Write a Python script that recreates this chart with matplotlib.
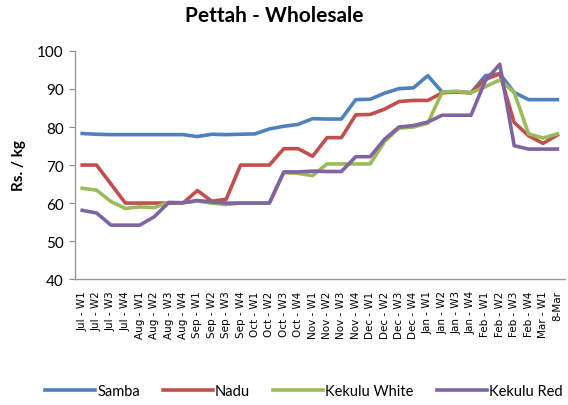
import matplotlib
matplotlib.use('Agg')
from matplotlib import pyplot as plt

weeks = ['Jul - W1', 'Jul - W2', 'Jul - W3', 'Jul - W4',
         'Aug - W1', 'Aug - W2', 'Aug - W3', 'Aug - W4',
         'Sep - W1', 'Sep - W2', 'Sep - W3', 'Sep - W4',
         'Oct - W1', 'Oct - W2', 'Oct - W3', 'Oct - W4',
         'Nov - W1', 'Nov - W2', 'Nov - W3', 'Nov - W4',
         'Dec - W1', 'Dec - W2', 'Dec - W3', 'Dec - W4',
         'Jan - W1', 'Jan - W2', 'Jan - W3', 'Jan - W4',
         'Feb - W1', 'Feb - W2', 'Feb - W3', 'Feb - W4',
         'Mar - W1', '8-Mar']

samba = [78.3, 78.1, 78, 78, 78, 78, 78, 78, 77.5, 78.1, 78, 78.1,
         78.2, 79.5, 80.2, 80.7, 82.2, 82.1, 82.1, 87.2, 87.3, 88.9, 90.1, 90.3,
         93.5, 89.2, 89.3, 89, 93.5, 94, 89.1, 87.2, 87.2, 87.2]
nadu = [70, 70, 65, 60, 60, 60, 60, 60, 63.3, 60.5, 61, 70,
        70, 70, 74.3, 74.3, 72.3, 77.2, 77.2, 83.2, 83.3, 84.7, 86.7, 87,
        87, 89, 89.2, 89, 92.5, 94, 81.2, 77.7, 75.7, 77.9]
kekulu_white = [63.9, 63.4, 60.4, 58.6, 59, 58.8, 60.2, 60.1, 60.5, 60, 59.6, 60,
                60, 60, 68, 67.8, 67.2, 70.3, 70.3, 70.3, 70.3, 76.2, 79.7, 80,
                81, 89.2, 89.4, 89, 90.6, 92.4, 89.1, 78.2, 77.1, 78.2]
kekulu_red = [58.1, 57.4, 54.2, 54.2, 54.2, 56.4, 60.1, 60.1, 60.7, 60.3, 60, 60,
              60, 60, 68.2, 68.2, 68.4, 68.3, 68.3, 72.2, 72.2, 76.8, 80, 80.4,
              81.3, 83.1, 83.1, 83.1, 92.2, 96.5, 75.1, 74.2, 74.2, 74.2]

series = [('Samba', samba, '#4F81BD'),
          ('Nadu', nadu, '#C0504D'),
          ('Kekulu White', kekulu_white, '#9BBB59'),
          ('Kekulu Red', kekulu_red, '#8064A2')]

fig = plt.figure(figsize=(5.68, 4.06), dpi=100)
ax = fig.add_axes([0.132, 0.310, 0.862, 0.562])

x = range(len(weeks))
for name, vals, col in series:
    ax.plot(x, vals, color=col, lw=2.6, label=name, solid_joinstyle='round')

ax.set_xlim(-0.5, len(weeks) - 0.5)
ax.set_ylim(40, 100)
ax.set_yticks(range(40, 101, 10))
ax.set_xticks(list(x))
ax.set_xticklabels(weeks, rotation=90, fontsize=7.5, family='DejaVu Sans')
ax.tick_params(axis='x', length=0, pad=8)
ax.tick_params(axis='y', length=4, color='#888888', labelsize=11, pad=4)
for lab in ax.get_yticklabels():
    lab.set_family('Lato')

for s in ['top', 'right']:
    ax.spines[s].set_visible(False)
for s in ['left', 'bottom']:
    ax.spines[s].set_color('#999999')
    ax.spines[s].set_linewidth(1)

ax.set_ylabel('Rs. / kg', fontsize=11, fontweight='bold', family='Lato', labelpad=8)
fig.suptitle('Pettah - Wholesale', x=0.483, y=0.985, fontsize=15, fontweight='bold', family='Lato')

fig.legend(loc='center', bbox_to_anchor=(0.535, 0.035), ncol=4, frameon=False,
           prop={'family': 'Lato', 'size': 10.5}, handlelength=3.4, handletextpad=0.15,
           columnspacing=1.6, borderpad=0.2)

fig.savefig('out.png', dpi=100)
